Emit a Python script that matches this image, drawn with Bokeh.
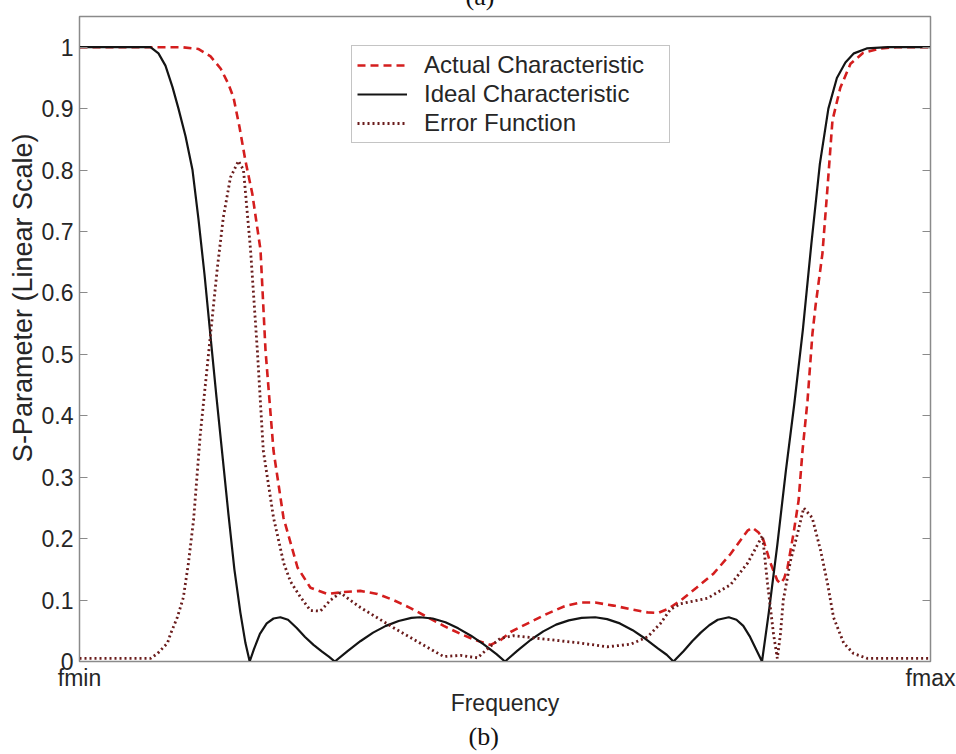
from bokeh.plotting import figure
from bokeh.models import Range1d, FixedTicker, LinearAxis, Title
from bokeh.embed import file_html
from bokeh.resources import INLINE

# ---------------- data (normalized frequency: 0 = fmin, 1 = fmax) ----------------
ideal_f = [0.000, 0.030, 0.060, 0.0834, 0.0928, 0.101, 0.1093, 0.1163, 0.1246, 0.1328,
           0.1398, 0.1469, 0.1539, 0.161, 0.168, 0.175, 0.182, 0.189, 0.195, 0.200,
           0.205, 0.212, 0.220, 0.228, 0.236, 0.245, 0.255, 0.265, 0.275, 0.285, 0.293, 0.300,
           0.315, 0.330, 0.345, 0.360, 0.375, 0.390, 0.400, 0.415, 0.430, 0.445, 0.460, 0.475,
           0.490, 0.500,
           0.515, 0.530, 0.545, 0.560, 0.575, 0.590, 0.606, 0.620, 0.635, 0.650, 0.665, 0.680,
           0.690, 0.698,
           0.710, 0.720, 0.730, 0.740, 0.750, 0.763, 0.772, 0.780, 0.788, 0.795, 0.802,
           0.810, 0.820, 0.830, 0.840, 0.850, 0.860, 0.870, 0.880, 0.890, 0.900, 0.910,
           0.925, 0.950, 1.000]
ideal_s = [1.000, 1.000, 1.000, 1.000, 0.990, 0.970, 0.935, 0.900, 0.855, 0.800,
           0.720, 0.630, 0.530, 0.430, 0.335, 0.240, 0.150, 0.080, 0.030, 0.000,
           0.020, 0.045, 0.062, 0.070, 0.072, 0.068, 0.055, 0.040, 0.027, 0.016, 0.008, 0.000,
           0.017, 0.033, 0.047, 0.058, 0.066, 0.071, 0.072, 0.070, 0.064, 0.054, 0.042, 0.028,
           0.012, 0.000,
           0.018, 0.035, 0.049, 0.060, 0.067, 0.071, 0.072, 0.069, 0.062, 0.051, 0.037, 0.021,
           0.011, 0.000,
           0.017, 0.033, 0.047, 0.059, 0.068, 0.072, 0.068, 0.058, 0.040, 0.020, 0.000,
           0.080, 0.190, 0.310, 0.420, 0.540, 0.680, 0.810, 0.900, 0.950, 0.975, 0.990,
           0.998, 1.000, 1.000]

actual_f = [0.000, 0.060, 0.120, 0.140, 0.154, 0.166, 0.175, 0.181, 0.188, 0.195,
            0.203, 0.2127, 0.2186, 0.228, 0.2397, 0.2562, 0.2714, 0.2914, 0.310, 0.330,
            0.350, 0.369, 0.389, 0.409, 0.428, 0.4477, 0.465, 0.483, 0.495, 0.5065,
            0.528, 0.550, 0.570, 0.5887, 0.606, 0.6275, 0.648, 0.6675, 0.680, 0.692,
            0.706, 0.725, 0.745, 0.765, 0.785, 0.7908, 0.798, 0.8038, 0.812, 0.820,
            0.8237, 0.828, 0.832, 0.839, 0.845, 0.8496, 0.8555, 0.8613, 0.865, 0.873,
            0.879, 0.8848, 0.894, 0.906, 0.921, 0.941, 0.960, 1.000]
actual_s = [1.000, 1.000, 1.000, 0.997, 0.985, 0.965, 0.940, 0.918, 0.870, 0.815,
            0.762, 0.670, 0.506, 0.343, 0.234, 0.153, 0.120, 0.110, 0.113, 0.115,
            0.110, 0.100, 0.087, 0.072, 0.058, 0.045, 0.035, 0.027, 0.035, 0.048,
            0.063, 0.078, 0.090, 0.096, 0.096, 0.091, 0.085, 0.080, 0.079, 0.086,
            0.099, 0.120, 0.143, 0.175, 0.213, 0.218, 0.210, 0.197, 0.160, 0.132,
            0.127, 0.135, 0.153, 0.208, 0.262, 0.343, 0.425, 0.534, 0.580, 0.664,
            0.772, 0.881, 0.934, 0.973, 0.991, 0.998, 1.000, 1.000]

error_f = [0.000, 0.040, 0.0834, 0.0917, 0.1034, 0.107, 0.115, 0.122, 0.128, 0.134,
           0.142, 0.150, 0.156, 0.162, 0.169, 0.1774, 0.1868, 0.1927, 0.201, 0.209,
           0.216, 0.228, 0.240, 0.248, 0.2596, 0.2714, 0.283, 0.295, 0.3067, 0.318,
           0.330, 0.369, 0.409, 0.428, 0.4477, 0.4677, 0.483, 0.495, 0.510, 0.550,
           0.5887, 0.620, 0.6475, 0.6675, 0.6827, 0.6945, 0.7062, 0.738, 0.765, 0.785,
           0.8026, 0.8085, 0.8155, 0.820, 0.8237, 0.827, 0.8355, 0.8437, 0.851, 0.861,
           0.871, 0.879, 0.886, 0.898, 0.9095, 0.926, 1.000]
error_s = [0.005, 0.005, 0.005, 0.013, 0.030, 0.045, 0.072, 0.104, 0.160, 0.230,
           0.371, 0.479, 0.560, 0.641, 0.723, 0.788, 0.815, 0.800, 0.670, 0.506,
           0.343, 0.234, 0.160, 0.130, 0.105, 0.083, 0.082, 0.100, 0.112, 0.100,
           0.088, 0.055, 0.023, 0.008, 0.010, 0.006, 0.025, 0.038, 0.042, 0.036,
           0.030, 0.024, 0.028, 0.040, 0.062, 0.085, 0.094, 0.103, 0.125, 0.160,
           0.205, 0.127, 0.045, 0.005, 0.045, 0.100, 0.164, 0.208, 0.250, 0.234,
           0.180, 0.127, 0.072, 0.030, 0.013, 0.005, 0.005]

y_ticks = [0, 0.1, 0.2, 0.3, 0.4, 0.5, 0.6, 0.7, 0.8, 0.9, 1]
y_tick_labels = ["0", "0.1", "0.2", "0.3", "0.4", "0.5", "0.6", "0.7", "0.8", "0.9", "1"]
x_ticks = [0, 1]
x_tick_labels = ["fmin", "fmax"]

# ---------------- styling ----------------
FONT = "Liberation Sans"
FS = "23px"
AX = "#8a8a8a"
TXT = "#262626"

p = figure(width=956, height=754, output_backend="svg", toolbar_location=None,
           x_range=Range1d(0, 1), y_range=Range1d(0, 1.05),
           min_border_left=79, min_border_right=26, min_border_top=16, min_border_bottom=93,
           background_fill_color="white", border_fill_color="white")
p.xgrid.visible = False
p.ygrid.visible = False
p.outline_line_color = AX
p.outline_line_width = 1.5

yax = p.yaxis[0]
yax.ticker = FixedTicker(ticks=y_ticks)
yax.major_label_overrides = dict(zip(y_ticks, y_tick_labels))
yax.minor_tick_line_color = None
yax.major_tick_in = 8
yax.major_tick_out = 0
yax.major_label_standoff = 6
yax.axis_line_color = AX
yax.major_tick_line_color = AX
yax.major_label_text_font = FONT
yax.major_label_text_font_size = FS
yax.major_label_text_color = TXT

xax = p.xaxis[0]
xax.ticker = FixedTicker(ticks=x_ticks)
xax.major_label_overrides = dict(zip(x_ticks, x_tick_labels))
xax.minor_tick_line_color = None
xax.major_tick_in = 8
xax.major_tick_out = 0
xax.major_label_standoff = 3
xax.axis_line_color = AX
xax.major_tick_line_color = AX
xax.major_label_text_font = FONT
xax.major_label_text_font_size = FS
xax.major_label_text_color = TXT
xax.axis_label = "Frequency"
xax.axis_label_text_font = FONT
xax.axis_label_text_font_size = FS
xax.axis_label_text_font_style = "normal"
xax.axis_label_text_color = TXT
xax.axis_label_standoff = -4

rax = LinearAxis(ticker=FixedTicker(ticks=y_ticks),
                 major_label_overrides={t: "" for t in y_ticks},
                 major_label_text_color=None,
                 major_tick_in=8, major_tick_out=0, minor_tick_line_color=None,
                 axis_line_color=AX, major_tick_line_color=AX, major_label_standoff=0)
p.add_layout(rax, "right")

# y-axis label as a left-side title so it can sit where the reference puts it
p.add_layout(Title(text="S-Parameter (Linear Scale)", align="right", offset=117,
                   text_font=FONT, text_font_size="27px", text_font_style="normal",
                   text_color=TXT, standoff=2), "left")

# ---------------- curves ----------------
p.line(actual_f, actual_s, line_color="#d41e1e", line_width=2.6, line_dash="8 5",
       legend_label="Actual Characteristic")
p.line(ideal_f, ideal_s, line_color="#141414", line_width=2.2,
       legend_label="Ideal Characteristic")
p.line(error_f, error_s, line_color="#6a1c1c", line_width=2.8, line_dash="2 3",
       legend_label="Error Function")

lg = p.legend[0]
lg.location = (272, 518)
lg.label_text_font = FONT
lg.label_text_font_size = "24px"
lg.label_text_color = TXT
lg.border_line_color = AX
lg.border_line_width = 1.5
lg.background_fill_alpha = 1.0
lg.glyph_width = 50
lg.glyph_height = 28
lg.label_height = 28
lg.label_width = 240
lg.label_standoff = 17
lg.spacing = 1
lg.padding = 5
lg.margin = 0

# ---------------- panel captions ----------------
p.add_layout(Title(text="(a)", align="left", offset=386, vertical_align="top",
                   text_font="Liberation Serif", text_font_size="26px",
                   text_font_style="normal", text_color="#111", standoff=-70), "above")
p.add_layout(Title(text="(b)", align="left", offset=389,
                   text_font="Liberation Serif", text_font_size="26px",
                   text_font_style="normal", text_color="#111", standoff=2), "below")

open("out.html", "w").write(file_html(p, INLINE))
